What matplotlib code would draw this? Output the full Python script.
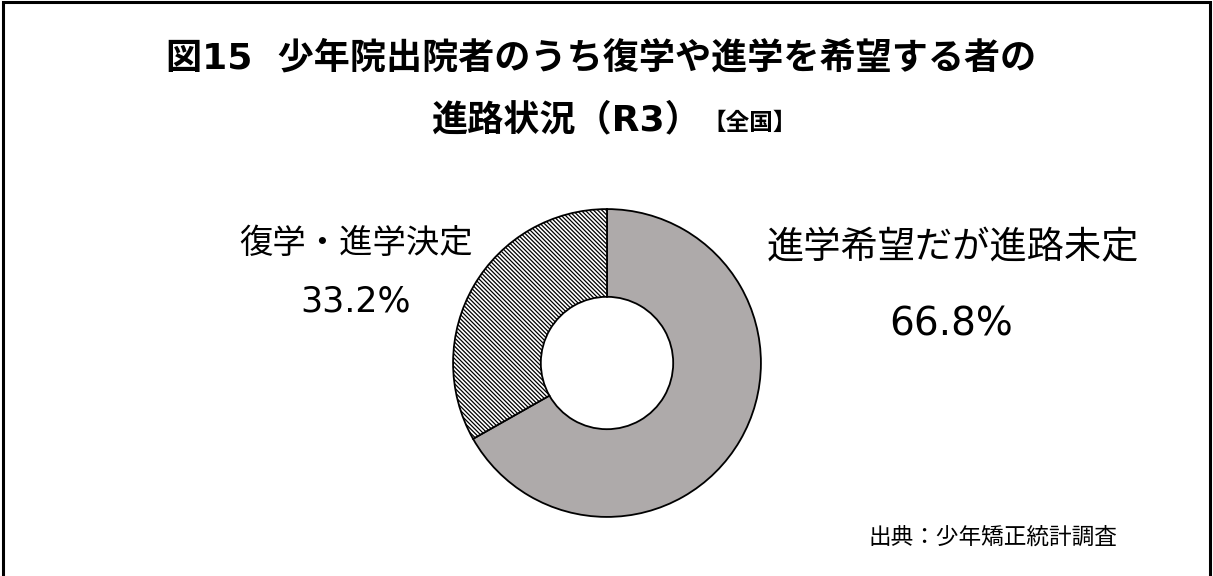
import matplotlib.pyplot as plt
from matplotlib.patches import Rectangle

plt.rcParams['font.family'] = ['DejaVu Sans', 'Noto Sans CJK JP']
plt.rcParams['hatch.linewidth'] = 0.9

# data
labels = ['進学希望だが進路未定', '復学・進学決定']
shares = [66.8, 33.2]
colors = ['#aeaaaa', 'white']
hatches = ['', '\\' * 8]

W, H = 1213, 576
fig = plt.figure(figsize=(W / 100, H / 100), dpi=100)

# outer frame
fig.patches.append(Rectangle((3 / W, -0.01), (1210 - 3) / W, (H - 2) / H + 0.01,
                             transform=fig.transFigure, fill=False,
                             edgecolor='black', linewidth=2.2))

# donut
cx, cy, r = 607, 363, 157
ax = fig.add_axes([(cx - r) / W, (H - cy - r) / H, 2 * r / W, 2 * r / H])
wedges, _ = ax.pie(shares, colors=colors, startangle=90, counterclock=False,
                   radius=1, wedgeprops=dict(width=0.57, edgecolor='black', linewidth=1.3))
for w, h in zip(wedges, hatches):
    w.set_hatch(h)
ax.set_xlim(-1.02, 1.02)
ax.set_ylim(-1.02, 1.02)
ax.set_aspect('equal')
ax.axis('off')

# title
fig.text(601 / W, 1 - 69 / H, '図15  少年院出院者のうち復学や進学を希望する者の',
         ha='center', va='baseline', fontsize=26, fontweight='bold')
fig.text(701 / W, 1 - 130 / H, '進路状況（R3）', ha='right', va='baseline',
         fontsize=26, fontweight='bold')
fig.text(702 / W, 1 - 130 / H, '【全国】', ha='left', va='baseline',
         fontsize=17, fontweight='bold')

# labels
fig.text(953 / W, 1 - 248 / H, labels[0], ha='center', va='center', fontsize=26.8)
fig.text(951 / W, 1 - 325 / H, f'{shares[0]:.1f}%', ha='center', va='center', fontsize=28)
fig.text(356 / W, 1 - 243 / H, labels[1], ha='center', va='center', fontsize=24)
fig.text(356 / W, 1 - 302 / H, f'{shares[1]:.1f}%', ha='center', va='center', fontsize=25)

fig.text(993 / W, 1 - 537 / H, '出典：少年矯正統計調査', ha='center', va='center', fontsize=16.3)

fig.savefig('out.png', dpi=100)
